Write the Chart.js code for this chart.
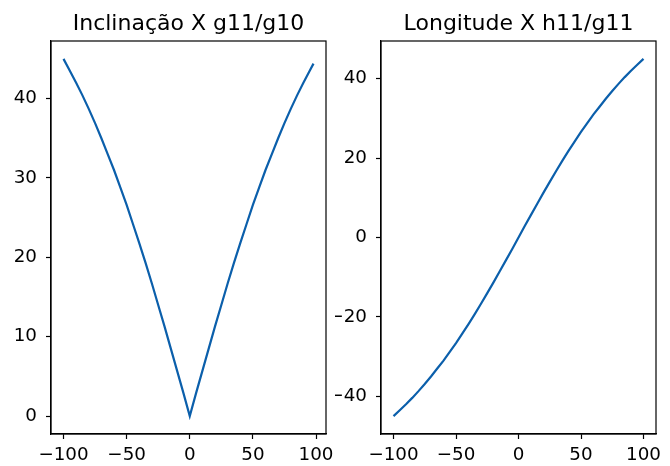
<!DOCTYPE html>
<html>
<head>
<meta charset="utf-8">
<script src="https://cdn.jsdelivr.net/npm/chart.js@4"></script>
<style>
html,body{margin:0;padding:0;background:#fff;}
#wrap{position:relative;width:670px;height:466px;overflow:hidden;}
.box{position:absolute;top:0;height:466px;}
</style>
</head>
<body>
<div id="wrap">
  <div class="box" style="left:0;width:335px;"><canvas id="c1"></canvas></div>
  <div class="box" style="left:335px;width:335px;"><canvas id="c2"></canvas></div>
</div>
<script>
// ---- data ----
const titleLeft = "Inclinação X g11/g10";
const titleRight = "Longitude X h11/g11";

const inclX = [-100,-95,-90,-85,-80,-75,-70,-65,-60,-55,-50,-45,-40,-35,-30,-25,-20,-15,-10,-5,0,5,10,15,20,25,30,35,40,45,50,55,60,65,70,75,80,85,90,95,98];
const inclY = [45.0,43.5,42.0,40.4,38.7,36.9,35.0,33.0,31.0,28.8,26.6,24.2,21.8,19.3,16.7,14.0,11.3,8.5,5.7,2.9,0.0,2.9,5.7,8.5,11.3,14.0,16.7,19.3,21.8,24.2,26.6,28.8,31.0,33.0,35.0,36.9,38.7,40.4,42.0,43.5,44.4];

const lonX = [-100,-95,-90,-85,-80,-75,-70,-65,-60,-55,-50,-45,-40,-35,-30,-25,-20,-15,-10,-5,0,5,10,15,20,25,30,35,40,45,50,55,60,65,70,75,80,85,90,95,100];
const lonY = [-45.0,-43.5,-42.0,-40.4,-38.7,-36.9,-35.0,-33.0,-31.0,-28.8,-26.6,-24.2,-21.8,-19.3,-16.7,-14.0,-11.3,-8.5,-5.7,-2.9,0.0,2.9,5.7,8.5,11.3,14.0,16.7,19.3,21.8,24.2,26.6,28.8,31.0,33.0,35.0,36.9,38.7,40.4,42.0,43.5,45.0];

const xTicks = [-100,-50,0,50,100];
const inclTicks = [0,10,20,30,40];
const lonTicks = [-40,-20,0,20,40];

// ---- drawing ----
const FONT = "'DejaVu Sans', sans-serif";
const lineColor = '#0b5fab';

const frame = {
  id:'frame',
  afterDatasetsDraw(chart){
    const a = chart.chartArea, ctx = chart.ctx;
    ctx.save();
    ctx.strokeStyle = '#000';
    ctx.lineWidth = 1.2;
    ctx.strokeRect(a.left, a.top, a.right - a.left, a.bottom - a.top);
    ctx.restore();
  }
};

const minus = v => String(v).replace('-', '\u2212');

function makeChart(id, xs, ys, title, yTicks, xmin, xmax, ymin, ymax, yAxisW, padRight){
  const pts = xs.map((x,i)=>({x:x, y:ys[i]}));
  return new Chart(document.getElementById(id), {
    type:'line',
    data:{datasets:[{data:pts, borderColor:lineColor, borderWidth:2.2, pointRadius:0, tension:0, fill:false}]},
    options:{
      responsive:false, animation:false, devicePixelRatio:1,
      layout:{padding:{left:0, right:padRight, top:0, bottom:0}},
      plugins:{
        legend:{display:false}, tooltip:{enabled:false},
        title:{display:true, fullSize:false, align:'center', text:title, color:'#000',
               font:{family:FONT, size:22, weight:'normal', lineHeight:1.2}, padding:{top:11, bottom:3.6}}
      },
      scales:{
        x:{type:'linear', min:xmin, max:xmax,
           afterBuildTicks(s){ s.ticks = xTicks.map(v=>({value:v})); },
           afterFit(s){ s.height = 32; s.paddingLeft = 0; s.paddingRight = 0; },
           grid:{drawOnChartArea:false, drawTicks:true, tickLength:5, color:'#000', tickWidth:1.2},
           border:{display:true, color:'#000', width:1.2},
           ticks:{color:'#000', font:{family:FONT, size:18.3}, padding:5, maxRotation:0, callback:v=>minus(v)}
        },
        y:{type:'linear', min:ymin, max:ymax,
           afterBuildTicks(s){ s.ticks = yTicks.map(v=>({value:v})); },
           afterFit(s){ s.width = yAxisW; s.paddingTop = 0; s.paddingBottom = 0; },
           grid:{drawOnChartArea:false, drawTicks:true, tickLength:5, color:'#000', tickWidth:1.2},
           border:{display:true, color:'#000', width:1.2},
           ticks:{color:'#000', font:{family:FONT, size:18.3}, padding:9, callback:v=>minus(v)}
        }
      }
    },
    plugins:[frame]
  });
}

const c1 = document.getElementById('c1'); c1.width = 335; c1.height = 466;
const c2 = document.getElementById('c2'); c2.width = 335; c2.height = 466;

makeChart('c1', inclX, inclY, titleLeft, inclTicks, -109.9, 107.9, -2.25, 47.25, 51, 9);
makeChart('c2', lonX, lonY, titleRight, lonTicks, -110, 110, -49.5, 49.5, 46, 14);
</script>
</body>
</html>
